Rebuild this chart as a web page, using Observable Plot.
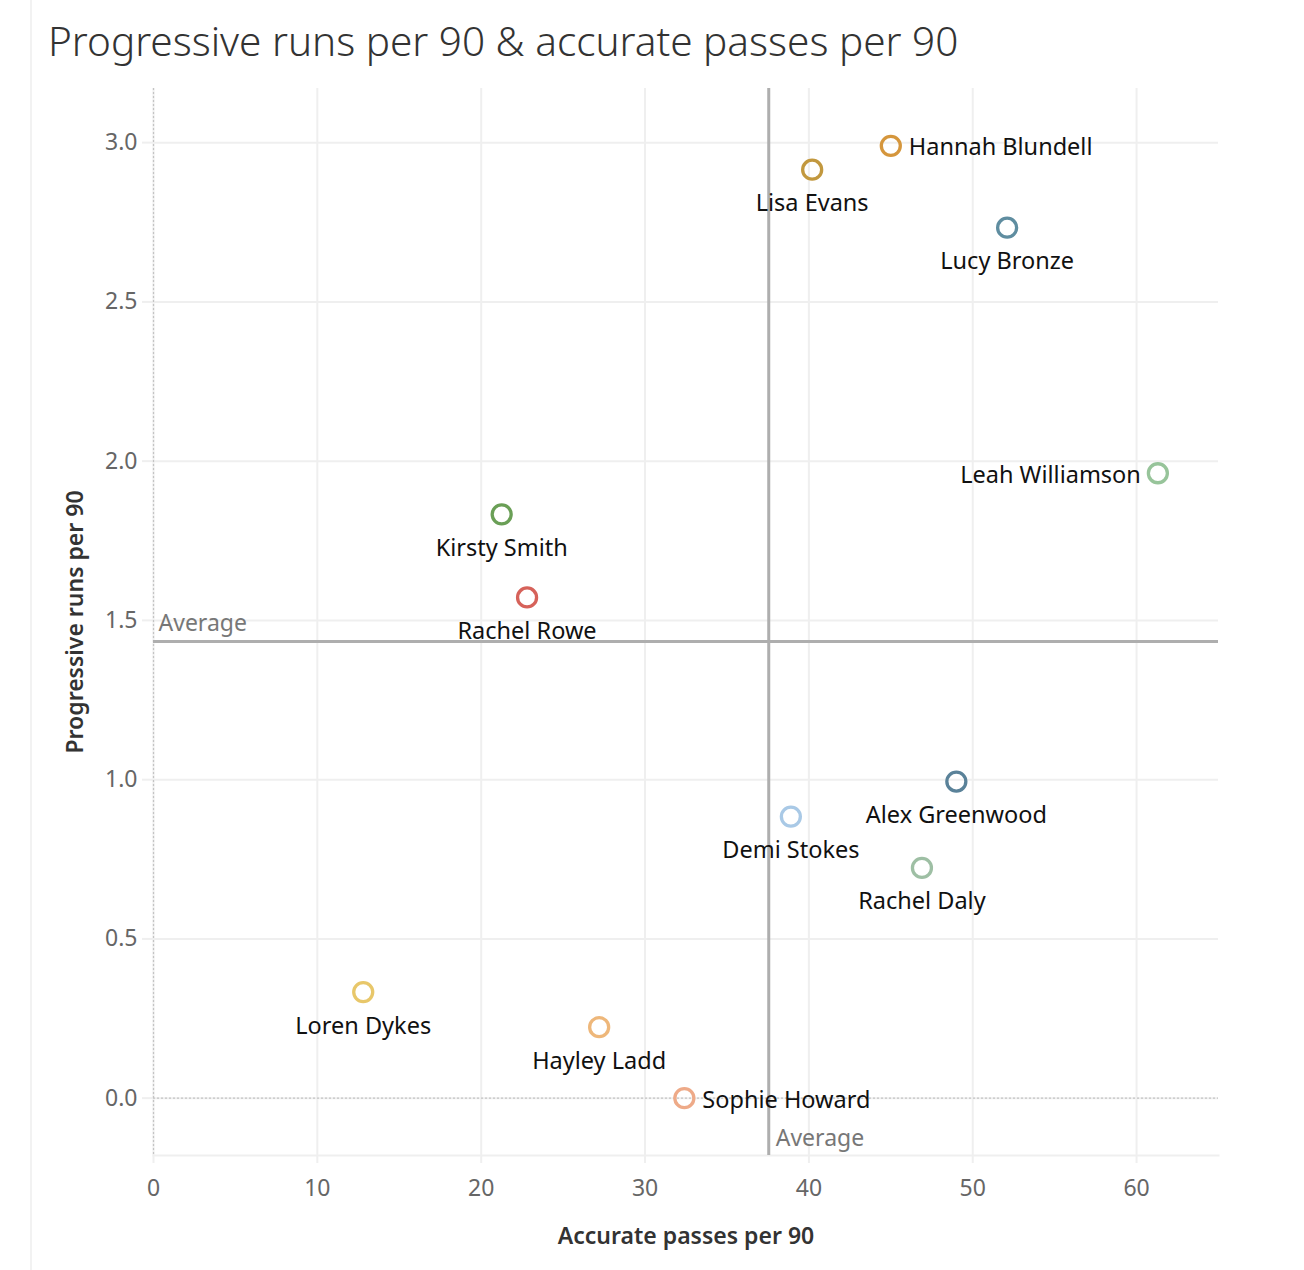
<!DOCTYPE html>
<html>
<head>
<meta charset="utf-8">
<script src="https://cdn.jsdelivr.net/npm/d3@7"></script>
<script src="https://cdn.jsdelivr.net/npm/@observablehq/plot@0.6"></script>
<style>
  html, body { margin: 0; padding: 0; background: #fff; }
  body { width: 1304px; height: 1270px; position: relative; overflow: hidden; font-family: "Noto Sans", "Open Sans", sans-serif; }
  #border { position: absolute; left: 30px; top: 0; width: 2px; height: 1270px; background: #f2f2f2; z-index: 1; }
  #title { height: 75px; box-sizing: border-box; padding-left: 48px; padding-top: 21px; font-size: 40.5px; font-weight: 300; color: #333; line-height: 1; white-space: nowrap; font-family: "Noto Sans", sans-serif; }
  #chart { position: relative; }
</style>
</head>
<body>
<div id="border"></div>
<div id="title">Progressive runs per 90 &amp; accurate passes per 90</div>
<div id="chart"></div>
<script>
const players = ["Hannah Blundell", "Lisa Evans", "Lucy Bronze", "Leah Williamson", "Kirsty Smith", "Rachel Rowe", "Alex Greenwood", "Demi Stokes", "Rachel Daly", "Loren Dykes", "Hayley Ladd", "Sophie Howard"];
const accuratePasses = [45.0, 40.2, 52.1, 61.3, 21.25, 22.8, 49.0, 38.9, 46.9, 12.8, 27.2, 32.4];
const progressiveRuns = [2.99, 2.915, 2.733, 1.962, 1.833, 1.572, 0.994, 0.884, 0.723, 0.333, 0.223, 0.0];
const playerColors = ["#d5963c", "#c2983e", "#5f8da0", "#97c49a", "#6a9f56", "#d6625a", "#5a8299", "#a9c9e6", "#9ebfa4", "#e8c76a", "#eeb77a", "#eeaa88"];
const labelSide = ["right", "below", "below", "left", "below", "below", "below", "below", "below", "below", "below", "right"];
const avgPasses = 37.55;
const avgRuns = 1.434;
const xTicks = [0, 10, 20, 30, 40, 50, 60];
const yTicks = [0, 0.5, 1.0, 1.5, 2.0, 2.5, 3.0];

const data = players.map((name, i) => ({name, x: accuratePasses[i], y: progressiveRuns[i], side: labelSide[i]}));

const gridColor = "#efefef";
const labelSize = 23.5;
const chart = Plot.plot({
  width: 1304,
  height: 1195,
  marginTop: 13,
  marginBottom: 115,
  marginLeft: 153,
  marginRight: 86,
  style: {fontFamily: "'Noto Sans', sans-serif", background: "transparent"},
  x: {domain: [0, 65], ticks: xTicks, label: null},
  y: {domain: [-0.18, 3.17], ticks: yTicks, label: null},
  color: {domain: players, range: playerColors},
  marks: [
    Plot.gridX(xTicks, {stroke: gridColor, strokeOpacity: 1, strokeWidth: 2}),
    Plot.gridY(yTicks, {stroke: gridColor, strokeOpacity: 1, strokeWidth: 2}),
    Plot.frame({anchor: "bottom", stroke: gridColor, strokeWidth: 2}),
    Plot.axisX(xTicks, {tickSize: 8, tickPadding: 16, stroke: gridColor, strokeWidth: 2, fontSize: 23, fill: "#666", label: null}),
    Plot.axisY(yTicks, {tickSize: 11, tickPadding: 5, stroke: gridColor, strokeWidth: 2, fontSize: 23, fill: "#666", tickFormat: d3.format(".1f"), label: null}),
    Plot.ruleX([0], {stroke: "#c4c4c4", strokeDasharray: "2,2", strokeWidth: 1.2}),
    Plot.ruleY([0], {stroke: "#c4c4c4", strokeDasharray: "2,2", strokeWidth: 1.2}),
    Plot.ruleX([avgPasses], {stroke: "#aeaeae", strokeWidth: 3}),
    Plot.ruleY([avgRuns], {stroke: "#aeaeae", strokeWidth: 3}),
    Plot.text([avgRuns], {x: 0, y: d => d, text: () => "Average", textAnchor: "start", dx: 5, dy: -18, fontSize: 23, fill: "#777"}),
    Plot.text([avgPasses], {x: d => d, y: -0.18, text: () => "Average", textAnchor: "start", dx: 7, dy: -17, fontSize: 23, fill: "#777"}),
    Plot.dot(data, {x: "x", y: "y", stroke: "name", r: 9.5, strokeWidth: 3.3, fill: "none"}),
    Plot.text(data.filter(d => d.side === "below"), {x: "x", y: "y", text: "name", dy: 34, fontSize: labelSize, fill: "#111"}),
    Plot.text(data.filter(d => d.side === "right"), {x: "x", y: "y", text: "name", dx: 18, dy: 2, textAnchor: "start", fontSize: labelSize, fill: "#111"}),
    Plot.text(data.filter(d => d.side === "left"), {x: "x", y: "y", text: "name", dx: -17, dy: 2, textAnchor: "end", fontSize: labelSize, fill: "#111"}),
    Plot.text(["Accurate passes per 90"], {frameAnchor: "bottom", textAnchor: "middle", text: d => d, dy: 88, fontSize: 23, fontWeight: 600, fill: "#333"}),
    Plot.text(["Progressive runs per 90"], {frameAnchor: "left", textAnchor: "middle", text: d => d, dx: -78, rotate: -90, fontSize: 23, fontWeight: 600, fill: "#333"})
  ]
});
document.getElementById("chart").appendChild(chart);
</script>
</body>
</html>
